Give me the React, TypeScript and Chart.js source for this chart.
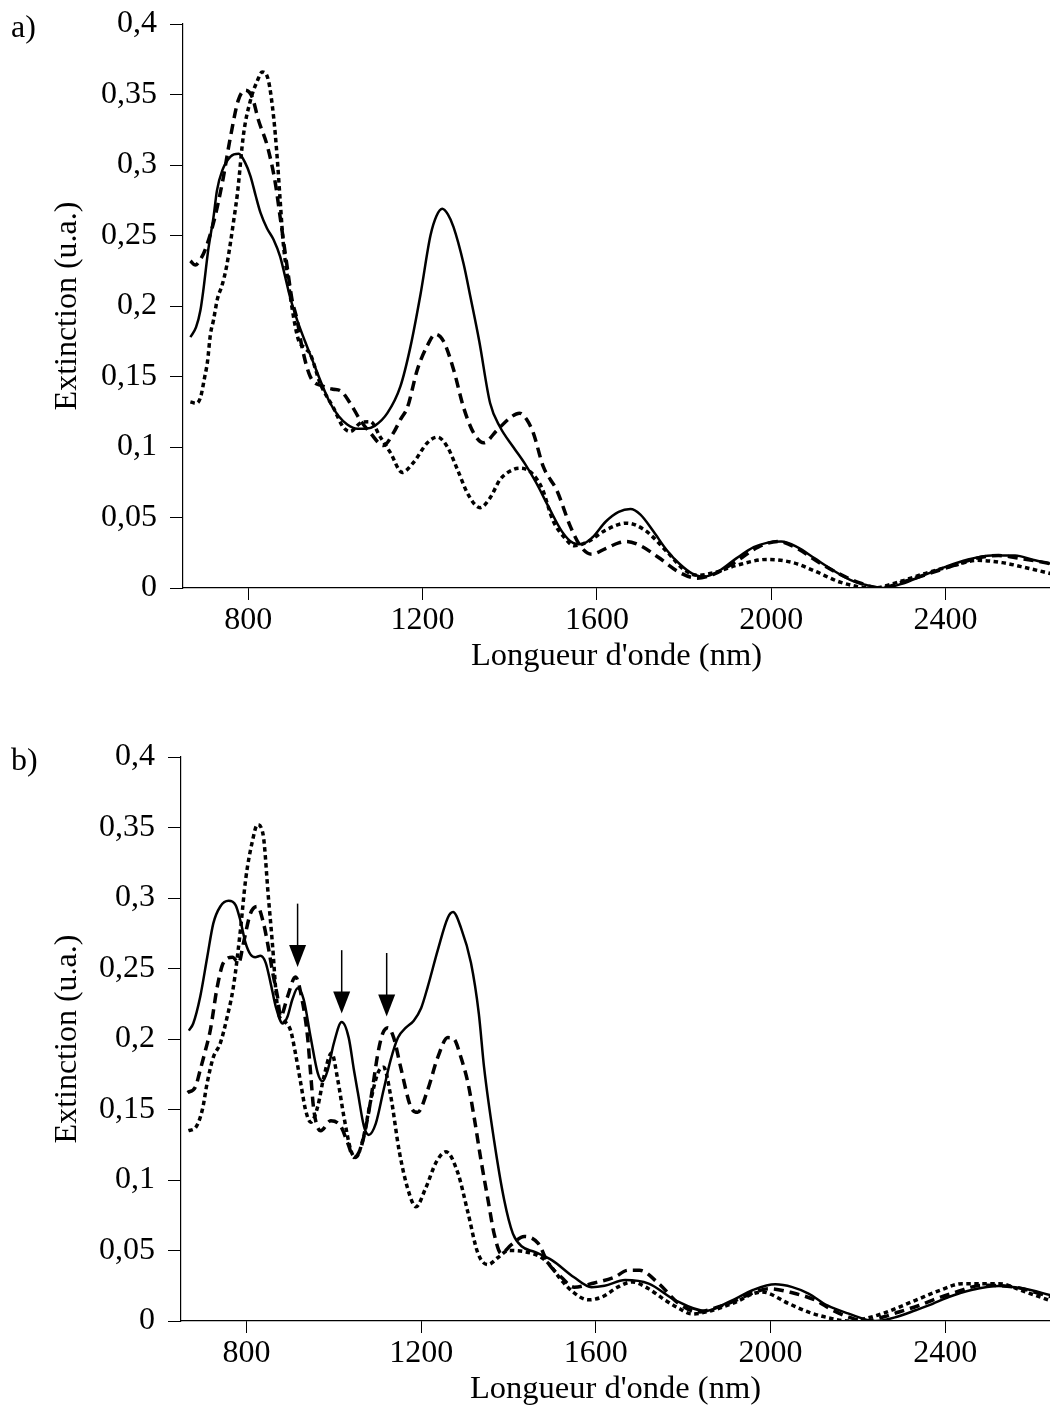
import React, { useEffect, useRef } from "react";
import { Chart, registerables } from "chart.js";
Chart.register(...registerables);

const FONT = '"Liberation Serif", "Times New Roman", Times, serif';

const xTicks = [800, 1200, 1600, 2000, 2400];
const yTicks = [0, 0.05, 0.1, 0.15, 0.2, 0.25, 0.3, 0.35, 0.4];
const yTickLabels = ["0", "0,05", "0,1", "0,15", "0,2", "0,25", "0,3", "0,35", "0,4"];
const xTitle = "Longueur d'onde (nm)";
const yTitle = "Extinction (u.a.)";
const xMin = 650;
const xMax = 2640;

// ---- Panel a) ----
const aSolidNm = [667, 680, 690, 697, 708, 720, 728, 740, 759, 778, 792, 805, 817, 828, 843, 858, 873, 885, 896, 912, 930, 949, 968, 988, 1007, 1027, 1050, 1070, 1090, 1119, 1149, 1172, 1195, 1218, 1232, 1245, 1258, 1271, 1294, 1310, 1330, 1355, 1378, 1408, 1435, 1460, 1490, 1520, 1545, 1564, 1590, 1620, 1650, 1677, 1700, 1730, 1760, 1790, 1820, 1846, 1880, 1920, 1960, 1990, 2023, 2060, 2100, 2140, 2180, 2220, 2257, 2300, 2350, 2400, 2450, 2506, 2560, 2600, 2645];
const aSolidExt = [0.178, 0.185, 0.197, 0.212, 0.24, 0.263, 0.282, 0.296, 0.306, 0.308, 0.302, 0.292, 0.278, 0.266, 0.255, 0.247, 0.235, 0.22, 0.206, 0.19, 0.175, 0.16, 0.145, 0.131, 0.122, 0.116, 0.113, 0.113, 0.115, 0.124, 0.143, 0.171, 0.208, 0.25, 0.264, 0.269, 0.265, 0.256, 0.23, 0.206, 0.175, 0.131, 0.114, 0.1, 0.088, 0.075, 0.057, 0.04, 0.032, 0.031, 0.036, 0.047, 0.054, 0.056, 0.052, 0.04, 0.027, 0.017, 0.01, 0.008, 0.012, 0.021, 0.029, 0.032, 0.033, 0.029, 0.021, 0.013, 0.006, 0.002, 0, 0.003, 0.009, 0.015, 0.02, 0.023, 0.023, 0.02, 0.017];

const aDashNm = [667, 678, 690, 701, 720, 740, 759, 777, 793, 809, 823, 844, 862, 873, 889, 900, 912, 923, 942, 972, 995, 1011, 1034, 1057, 1080, 1110, 1133, 1150, 1165, 1188, 1211, 1229, 1248, 1271, 1294, 1317, 1340, 1371, 1402, 1422, 1440, 1454, 1477, 1493, 1507, 1540, 1564, 1588, 1620, 1650, 1668, 1700, 1740, 1790, 1830, 1870, 1920, 1970, 2015, 2060, 2100, 2150, 2200, 2249, 2300, 2360, 2420, 2470, 2522, 2570, 2610, 2645];
const aDashExt = [0.232, 0.229, 0.233, 0.24, 0.259, 0.287, 0.32, 0.346, 0.353, 0.348, 0.332, 0.313, 0.287, 0.263, 0.228, 0.205, 0.19, 0.171, 0.15, 0.143, 0.141, 0.14, 0.131, 0.119, 0.11, 0.101, 0.11, 0.12, 0.128, 0.155, 0.172, 0.18, 0.175, 0.155, 0.128, 0.11, 0.103, 0.112, 0.121, 0.124, 0.119, 0.11, 0.086, 0.077, 0.07, 0.043, 0.029, 0.024, 0.028, 0.032, 0.033, 0.03, 0.022, 0.011, 0.007, 0.01, 0.019, 0.029, 0.033, 0.028, 0.02, 0.011, 0.004, 0, 0.004, 0.01, 0.016, 0.021, 0.023, 0.021, 0.019, 0.017];

const aDotNm = [667, 680, 690, 700, 706, 713, 720, 729, 740, 750, 759, 767, 775, 789, 805, 821, 832, 846, 858, 866, 873, 880, 892, 905, 915, 930, 942, 965, 995, 1018, 1034, 1057, 1080, 1103, 1126, 1153, 1179, 1211, 1234, 1257, 1280, 1305, 1332, 1355, 1378, 1408, 1425, 1452, 1475, 1499, 1525, 1548, 1580, 1620, 1668, 1710, 1760, 1800, 1830, 1870, 1920, 1991, 2050, 2100, 2160, 2232, 2300, 2360, 2420, 2474, 2530, 2590, 2645];
const aDotExt = [0.132, 0.131, 0.135, 0.15, 0.16, 0.18, 0.19, 0.205, 0.215, 0.228, 0.245, 0.262, 0.28, 0.322, 0.346, 0.36, 0.366, 0.36, 0.334, 0.306, 0.275, 0.245, 0.216, 0.19, 0.176, 0.17, 0.166, 0.145, 0.128, 0.114, 0.111, 0.117, 0.118, 0.107, 0.096, 0.082, 0.089, 0.103, 0.107, 0.1, 0.084, 0.066, 0.057, 0.064, 0.077, 0.084, 0.085, 0.081, 0.07, 0.048, 0.036, 0.03, 0.033, 0.041, 0.046, 0.041, 0.026, 0.013, 0.009, 0.011, 0.016, 0.0203, 0.018, 0.012, 0.004, 0, 0.005, 0.011, 0.016, 0.0196, 0.018, 0.014, 0.01];

// ---- Panel b) ----
const bSolidNm = [668, 678, 694, 710, 724, 740, 759, 775, 786, 798, 809, 820, 832, 844, 855, 867, 883, 894, 905, 917, 931, 947, 963, 974, 986, 1000, 1018, 1034, 1046, 1055, 1069, 1080, 1096, 1114, 1130, 1147, 1165, 1183, 1200, 1215, 1238, 1261, 1273, 1291, 1314, 1332, 1344, 1367, 1390, 1410, 1430, 1460, 1500, 1550, 1590, 1620, 1667, 1721, 1782, 1851, 1912, 1960, 2011, 2050, 2087, 2130, 2179, 2240, 2290, 2332, 2370, 2408, 2460, 2523, 2580, 2645];
const bSolidExt = [0.206, 0.211, 0.23, 0.258, 0.282, 0.294, 0.298, 0.295, 0.284, 0.268, 0.26, 0.258, 0.259, 0.254, 0.24, 0.223, 0.211, 0.216, 0.228, 0.236, 0.228, 0.201, 0.176, 0.17, 0.178, 0.197, 0.212, 0.201, 0.178, 0.162, 0.138, 0.132, 0.14, 0.164, 0.185, 0.201, 0.208, 0.213, 0.222, 0.237, 0.263, 0.286, 0.29, 0.279, 0.254, 0.218, 0.18, 0.128, 0.086, 0.062, 0.053, 0.049, 0.043, 0.031, 0.024, 0.025, 0.029, 0.0265, 0.0147, 0.0071, 0.0147, 0.022, 0.026, 0.024, 0.0194, 0.011, 0.0052, 0, 0.003, 0.0076, 0.012, 0.017, 0.022, 0.0248, 0.023, 0.018];

const bDashNm = [665, 683, 694, 706, 717, 733, 747, 768, 782, 793, 809, 825, 839, 850, 860, 871, 878, 894, 912, 929, 940, 947, 954, 970, 993, 1016, 1032, 1046, 1062, 1078, 1089, 1101, 1112, 1124, 1137, 1153, 1176, 1192, 1215, 1238, 1261, 1275, 1291, 1307, 1321, 1337, 1353, 1367, 1383, 1406, 1436, 1468, 1491, 1521, 1550, 1596, 1642, 1674, 1700, 1744, 1790, 1835, 1870, 1912, 1960, 1996, 2050, 2103, 2140, 2179, 2217, 2260, 2294, 2340, 2370, 2420, 2485, 2561, 2610, 2645];
const bDashExt = [0.162, 0.166, 0.178, 0.192, 0.206, 0.237, 0.254, 0.258, 0.254, 0.268, 0.289, 0.294, 0.282, 0.265, 0.247, 0.23, 0.216, 0.23, 0.244, 0.225, 0.201, 0.175, 0.15, 0.135, 0.142, 0.138, 0.126, 0.116, 0.123, 0.145, 0.166, 0.19, 0.204, 0.208, 0.201, 0.18, 0.152, 0.148, 0.164, 0.187, 0.201, 0.2, 0.187, 0.169, 0.145, 0.114, 0.086, 0.062, 0.048, 0.054, 0.06, 0.055, 0.041, 0.031, 0.024, 0.027, 0.031, 0.036, 0.036, 0.0265, 0.0123, 0.0064, 0.009, 0.0135, 0.02, 0.0229, 0.02, 0.0147, 0.008, 0.0028, 0, 0.003, 0.0064, 0.011, 0.0147, 0.02, 0.0253, 0.024, 0.02, 0.017];

const bDotNm = [667, 683, 699, 710, 724, 740, 756, 770, 786, 798, 814, 825, 838, 850, 860, 867, 873, 885, 901, 912, 924, 935, 947, 963, 977, 995, 1009, 1023, 1039, 1050, 1066, 1085, 1101, 1114, 1130, 1150, 1170, 1188, 1210, 1235, 1257, 1284, 1307, 1330, 1353, 1376, 1400, 1440, 1470, 1491, 1521, 1550, 1582, 1614, 1650, 1683, 1720, 1759, 1790, 1820, 1860, 1912, 1980, 2042, 2090, 2141, 2179, 2220, 2256, 2332, 2390, 2439, 2523, 2580, 2638];
const bDotExt = [0.135, 0.137, 0.15, 0.169, 0.187, 0.197, 0.216, 0.237, 0.277, 0.313, 0.341, 0.352, 0.345, 0.301, 0.265, 0.235, 0.218, 0.213, 0.206, 0.19, 0.169, 0.15, 0.141, 0.152, 0.173, 0.19, 0.171, 0.145, 0.121, 0.116, 0.128, 0.157, 0.176, 0.18, 0.16, 0.12, 0.093, 0.081, 0.094, 0.113, 0.12, 0.105, 0.077, 0.048, 0.04, 0.045, 0.05, 0.049, 0.046, 0.041, 0.029, 0.02, 0.015, 0.017, 0.024, 0.0277, 0.023, 0.0147, 0.009, 0.005, 0.007, 0.0123, 0.0206, 0.0123, 0.006, 0.0017, 0, 0.002, 0.0052, 0.0147, 0.022, 0.0265, 0.0265, 0.021, 0.0147];

// arrows in panel b)
const arrowNm = [917, 1018, 1121];
const arrowTop = [0.296, 0.263, 0.261];
const arrowTip = [0.251, 0.218, 0.216];

type Series = { nm: number[]; ext: number[]; style: "solid" | "dash" | "dot" };

const panelA: Series[] = [
  { nm: aDotNm, ext: aDotExt, style: "dot" },
  { nm: aDashNm, ext: aDashExt, style: "dash" },
  { nm: aSolidNm, ext: aSolidExt, style: "solid" },
];
const panelB: Series[] = [
  { nm: bDotNm, ext: bDotExt, style: "dot" },
  { nm: bDashNm, ext: bDashExt, style: "dash" },
  { nm: bSolidNm, ext: bSolidExt, style: "solid" },
];

const CANVAS_W = 1050;
const CANVAS_H = 674;
const PLOT_H = 564;
const TOP_PAD = 24;

function Panel({ label, series, yAxisWidth, arrows, top }: { label: string; series: Series[]; yAxisWidth: number; arrows: boolean; top: number }) {
  const ref = useRef<HTMLCanvasElement | null>(null);
  useEffect(() => {
    if (!ref.current) return;
    const datasets = series.map((s) => ({
      data: s.nm.map((x, i) => ({ x, y: s.ext[i] })),
      borderColor: "#000",
      borderWidth: s.style === "solid" ? 2.5 : 3.5,
      borderDash: s.style === "dash" ? [10, 6] : s.style === "dot" ? [4.5, 3.5] : [],
      borderCapStyle: "butt" as const,
      pointRadius: 0,
      fill: false,
      cubicInterpolationMode: "monotone" as const,
    }));
    const overlay = {
      id: "overlay",
      afterDraw(chart: any) {
        const ctx = chart.ctx;
        ctx.save();
        ctx.fillStyle = "#000";
        ctx.strokeStyle = "#000";
        ctx.font = `32px ${FONT}`;
        ctx.textBaseline = "alphabetic";
        ctx.textAlign = "left";
        ctx.fillText(label, 11, chart.chartArea.top + 13);
        if (arrows) {
          const xs = chart.scales.x;
          const ys = chart.scales.y;
          arrowNm.forEach((nm, i) => {
            const px = xs.getPixelForValue(nm);
            const pTop = ys.getPixelForValue(arrowTop[i]);
            const pTip = ys.getPixelForValue(arrowTip[i]);
            const headH = 22;
            const headW = 8.5;
            ctx.lineWidth = 1.5;
            ctx.beginPath();
            ctx.moveTo(px, pTop);
            ctx.lineTo(px, pTip - headH + 1);
            ctx.stroke();
            ctx.beginPath();
            ctx.moveTo(px - headW, pTip - headH);
            ctx.lineTo(px + headW, pTip - headH);
            ctx.lineTo(px, pTip);
            ctx.closePath();
            ctx.fill();
          });
        }
        ctx.restore();
      },
    };
    const chart = new Chart(ref.current, {
      type: "line",
      data: { datasets },
      plugins: [overlay],
      options: {
        animation: false,
        responsive: false,
        devicePixelRatio: 1,
        layout: { padding: { top: TOP_PAD, left: 0, right: 0, bottom: 0 } },
        plugins: { legend: { display: false }, tooltip: { enabled: false } },
        scales: {
          x: {
            type: "linear",
            min: xMin,
            max: xMax,
            afterBuildTicks: (scale: any) => {
              scale.ticks = xTicks.map((v) => ({ value: v }));
            },
            afterFit: (scale: any) => {
              scale.height = CANVAS_H - TOP_PAD - PLOT_H;
              scale.paddingLeft = 0;
              scale.paddingRight = 0;
            },
            ticks: {
              color: "#000",
              font: { family: FONT, size: 32 },
              padding: 1,
              maxRotation: 0,
              autoSkip: false,
              callback: (v: any) => String(v),
            },
            grid: { display: true, drawOnChartArea: false, drawTicks: true, tickLength: 12, color: "#000", lineWidth: 1 },
            border: { display: true, color: "#000", width: 1.2 },
            title: {
              display: true,
              text: xTitle,
              color: "#000",
              font: { family: FONT, size: 32.5, lineHeight: 1 },
              padding: { top: 0, bottom: 1 },
            },
          },
          y: {
            type: "linear",
            min: 0,
            max: 0.4,
            afterBuildTicks: (scale: any) => {
              scale.ticks = yTicks.map((v) => ({ value: v }));
            },
            afterFit: (scale: any) => {
              scale.width = yAxisWidth;
              scale.paddingTop = 0;
              scale.paddingBottom = 0;
            },
            ticks: {
              color: "#000",
              font: { family: FONT, size: 32 },
              padding: 13,
              autoSkip: false,
              callback: (_v: any, i: number) => yTickLabels[i],
            },
            grid: { display: true, drawOnChartArea: false, drawTicks: true, tickLength: 13, color: "#000", lineWidth: 1 },
            border: { display: true, color: "#000", width: 1.2 },
            title: {
              display: true,
              text: yTitle,
              color: "#000",
              font: { family: FONT, size: 32, lineHeight: 1 },
              padding: { top: 52, bottom: 0 },
            },
          },
        },
      },
    } as any);
    return () => chart.destroy();
  }, []);
  return (
    <canvas
      ref={ref}
      width={CANVAS_W}
      height={CANVAS_H}
      style={{ position: "absolute", left: 0, top, width: CANVAS_W, height: CANVAS_H }}
    />
  );
}

export default function App() {
  return (
    <div style={{ position: "absolute", left: 0, top: 0, width: 1050, height: 1407, overflow: "hidden", background: "#fff" }}>
      <Panel label="a)" series={panelA} yAxisWidth={183} arrows={false} top={0} />
      <Panel label="b)" series={panelB} yAxisWidth={181} arrows={true} top={733} />
    </div>
  );
}
